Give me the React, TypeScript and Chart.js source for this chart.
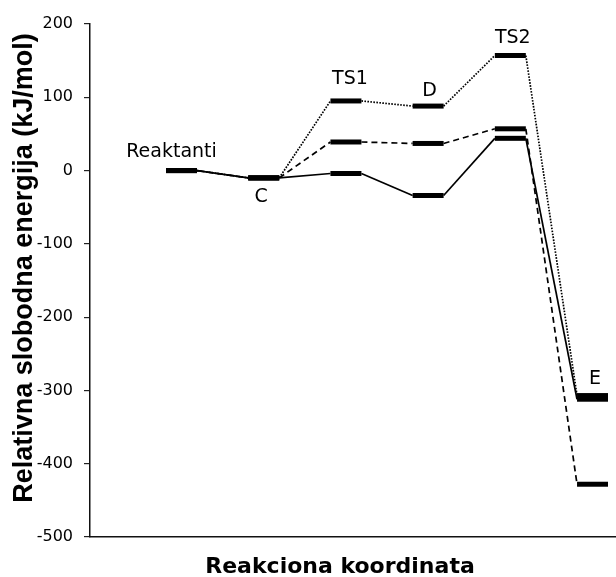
import React, { useEffect, useRef } from 'react';
import { Chart, registerables } from 'chart.js';

Chart.register(...registerables);

// ---- data ----
const stages = ['Reaktanti', 'C', 'TS1', 'D', 'TS2', 'E'];
const solidPath = [0, -10, -4, -34, 44, -312];
const dashedPath = [0, -10, 39, 37, 57, -428];
const dottedPath = [0, -10, 95, 88, 157, -307];
const yTicks = [200, 100, 0, -100, -200, -300, -400, -500];
const yTitle = 'Relativna slobodna energija (kJ/mol)';
const xTitle = 'Reakciona koordinata';

// ---- styling / layout (not data) ----
const LEVEL_W = 0.377; // width of an energy level in stage units
// label placement: side, horizontal nudge (px), gap from level (px, to baseline)
const labelPlace = [
  { side: 'above', dx: -10, gap: 14 },
  { side: 'below', dx: -2.5, gap: 24.5 },
  { side: 'above', dx: 4, gap: 17 },
  { side: 'above', dx: 1.5, gap: 10.5 },
  { side: 'above', dx: 2.5, gap: 13 },
  { side: 'above', dx: 2.5, gap: 12 },
];

function levelPoints(vals: number[]) {
  return vals.flatMap((v, i) => [
    { x: i, y: v },
    { x: i + LEVEL_W, y: v },
  ]);
}

function pathDataset(vals: number[], dash: number[]) {
  return {
    data: levelPoints(vals),
    borderColor: '#000',
    backgroundColor: '#000',
    borderWidth: 1.7,
    pointRadius: 0,
    pointHoverRadius: 0,
    tension: 0,
    fill: false,
    borderCapStyle: 'butt',
    segment: {
      borderWidth: (c: any) => (c.p0DataIndex % 2 === 0 ? 5 : 1.7),
      borderDash: (c: any) => (c.p0DataIndex % 2 === 0 ? [] : dash),
    },
  };
}

const textPlugin = {
  id: 'energyText',
  afterDraw(chart: any) {
    const { ctx, scales } = chart;
    const xs = scales.x;
    const ys = scales.y;
    ctx.save();
    ctx.fillStyle = '#000';
    // stage labels
    ctx.font = '19px "DejaVu Sans"';
    ctx.textAlign = 'center';
    ctx.textBaseline = 'alphabetic';
    stages.forEach((name, i) => {
      const p = labelPlace[i];
      const vals = [solidPath[i], dashedPath[i], dottedPath[i]];
      const cx = xs.getPixelForValue(i + LEVEL_W / 2) + p.dx;
      let y;
      if (p.side === 'above') {
        y = ys.getPixelForValue(Math.max(...vals)) - p.gap;
      } else {
        y = ys.getPixelForValue(Math.min(...vals)) + p.gap;
      }
      ctx.fillText(name, cx, y);
    });
    // x title
    ctx.font = 'bold 22px "DejaVu Sans"';
    ctx.fillText(xTitle, 340, 573);
    // y title
    ctx.translate(31.5, 268);
    ctx.rotate(-Math.PI / 2);
    ctx.font = 'bold 27px "Liberation Sans"';
    ctx.fillText(yTitle, 0, 0);
    ctx.restore();
  },
};

export default function App() {
  const ref = useRef<HTMLCanvasElement | null>(null);
  useEffect(() => {
    if (!ref.current) return;
    const chart = new Chart(ref.current, {
      type: 'line',
      data: {
        datasets: [
          pathDataset(solidPath, []),
          pathDataset(dashedPath, [6, 4]),
          pathDataset(dottedPath, [1.6, 1.4]),
        ] as any,
      },
      options: {
        animation: false,
        responsive: false,
        devicePixelRatio: 1,
        events: [],
        layout: { padding: { top: 24, bottom: 40, left: 0, right: 0 } },
        plugins: {
          legend: { display: false },
          tooltip: { enabled: false },
          title: { display: false },
        },
        scales: {
          x: {
            type: 'linear',
            min: -0.925,
            max: 5.474,
            ticks: { display: false },
            grid: { display: false, drawTicks: false },
            border: { display: true, color: '#111', width: 1.5 },
            afterFit: (s: any) => {
              s.height = 0;
            },
          },
          y: {
            type: 'linear',
            min: -500,
            max: 200,
            afterBuildTicks: (s: any) => {
              s.ticks = yTicks.map((v) => ({ value: v }));
            },
            ticks: {
              font: { family: 'DejaVu Sans', size: 16 },
              color: '#000',
              padding: 11,
            },
            grid: {
              display: true,
              drawOnChartArea: false,
              drawTicks: true,
              tickLength: 6,
              color: '#222',
              lineWidth: 1.2,
            },
            border: { display: true, color: '#111', width: 1.5 },
            afterFit: (s: any) => {
              s.width = 90;
            },
          },
        },
      } as any,
      plugins: [textPlugin],
    });
    return () => chart.destroy();
  }, []);
  return (
    <div style={{ position: 'absolute', left: 0, top: 0, width: 616, height: 577, background: '#fff' }}>
      <canvas ref={ref} width={616} height={577} style={{ width: 616, height: 577, display: 'block' }} />
    </div>
  );
}
